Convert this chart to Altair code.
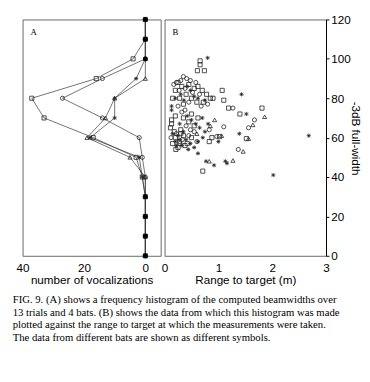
import altair as alt
import pandas as pd

# ---------- Panel A: histogram of beamwidths (counts per 10-degree bin) ----------
bins = [0, 10, 20, 30, 40, 50, 60, 70, 80, 90, 100, 110, 120]
hist_square = [0, 0, 0, 0, 1, 3, 17, 33, 37, 16, 4, 0, 0]
hist_circle = [0, 0, 0, 0, 0, 1, 2, 14, 27, 14, 0, 0, 0]
hist_star = [0, 0, 0, 0, 1, 2, 18, 10, 10, 3, 0, 0, 0]
hist_triangle = [0, 0, 0, 0, 0, 5, 19, 13, 10, 0, 0, 0, 0]
zero_bins = [0, 10, 20, 30, 100, 110, 120]

# ---------- Panel B: beamwidth vs range, per bat ----------
sq_x = [0.66, 0.66, 0.61, 0.74, 1.07, 1.10, 1.19, 1.40, 1.81, 0.13, 0.13, 0.20, 0.11, 0.83, 1.52, 0.71, 0.21,
        0.25, 0.32, 0.45, 0.55, 0.62, 0.70, 0.78, 0.85, 0.40, 0.50, 0.28, 0.60, 0.35, 0.90, 0.72, 0.20, 0.15,
        0.35, 0.45, 0.55, 0.30, 0.62, 0.50,
        0.20, 0.28, 0.35, 0.42, 0.15, 0.25, 0.50, 0.18, 0.38, 0.30, 0.88, 1.02]
sq_y = [99, 97, 94, 94, 84, 79, 75, 72, 75, 67, 69, 71, 65, 58, 59.5, 43, 54,
        88, 86, 87, 85, 86, 84, 82, 80, 82, 80, 80, 78, 77, 80, 78, 84, 80,
        70, 68, 66, 64, 70, 72,
        60, 58, 61, 57, 57, 55, 60, 63, 56, 62, 60, 60.5]
ci_x = [0.41, 0.30, 0.22, 0.17, 0.35, 0.48, 0.58, 0.27, 0.38, 0.52, 0.65, 0.45, 0.32, 0.25, 0.68, 0.80,
        1.27, 1.67, 1.56, 1.10, 0.83, 1.37, 0.97,
        0.40, 0.48, 0.22, 0.33, 0.45, 0.28, 0.55, 0.60, 0.12, 0.38]
ci_y = [90, 89, 88, 87, 91, 89, 88, 84, 85, 83, 82, 78, 73, 76, 76, 77,
        75, 69, 65, 65.5, 64, 54, 60.6,
        66, 64, 62, 59, 61, 57, 63, 58, 60, 74]
st_x = [0.80, 1.43, 1.52, 0.81, 2.68, 0.13, 0.13, 0.62, 0.77, 1.39, 0.92, 1.13, 1.16, 2.02, 0.71, 0.75, 1.00,
        0.42, 0.55, 0.30, 0.62, 0.48, 0.75, 0.20, 0.36,
        0.50, 0.58, 0.42, 0.65, 0.28, 0.70,
        0.20, 0.25, 0.32, 0.40, 0.48, 0.15, 0.55, 0.35, 0.44, 0.27, 0.22, 0.62]
st_y = [100.5, 82, 72, 67, 61, 74, 76, 52, 48, 62, 46, 48, 47, 41, 60, 63, 58,
        86, 81, 82, 80, 84, 79, 80, 79,
        69, 67, 71, 65, 67, 70,
        58, 61, 56, 59, 57, 62, 55, 63, 54, 59, 56, 58]
tr_x = [0.93, 1.86, 1.64, 1.56, 1.46, 0.83, 1.27, 1.06, 0.85, 0.60]
tr_y = [69, 70.6, 66.5, 59.5, 53, 48, 48.4, 61, 66, 62]

series_names = ["square", "circle", "star", "triangle"]
caption = [
    "FIG. 9.  (A) shows a frequency histogram of the computed beamwidths over",
    "13 trials and 4 bats. (B) shows the data from which this histogram was made",
    "plotted against the range to target at which the measurements were taken.",
    "The data from different bats are shown as different symbols.",
]

STAR = "M-1,0L1,0M0,-1L0,1M-0.72,-0.72L0.72,0.72M-0.72,0.72L0.72,-0.72"
shape_scale = alt.Scale(domain=series_names, range=["square", "circle", STAR, "triangle-up"])

hist_rows = []
for name, vals in zip(series_names, [hist_square, hist_circle, hist_star, hist_triangle]):
    for b, v in zip(bins, vals):
        hist_rows.append({"series": name, "width": b, "count": v})
hist = pd.DataFrame(hist_rows)
zeros = pd.DataFrame({"width": zero_bins, "count": [0] * len(zero_bins)})

sc_rows = []
for name, xs, ys in zip(series_names, [sq_x, ci_x, st_x, tr_x], [sq_y, ci_y, st_y, tr_y]):
    for x, y in zip(xs, ys):
        sc_rows.append({"series": name, "range": x, "width": y})
scat = pd.DataFrame(sc_rows)

FONT = "Liberation Sans"
xA = alt.X("count:Q", scale=alt.Scale(domain=[-5, 40], reverse=True, nice=False, zero=False),
           axis=alt.Axis(values=[40, 20, 0], title="number of vocalizations", grid=False, ticks=False,
                         domain=False, labelPadding=7, titlePadding=2, labelFlush=False,
                         labelFont=FONT, labelFontSize=12, labelColor="black",
                         titleFont=FONT, titleFontSize=12, titleFontWeight="normal", titleColor="black"))
yA = alt.Y("width:Q", scale=alt.Scale(domain=[0, 120], nice=False), axis=None)

linesA = alt.Chart(hist).mark_line(color="#333", strokeWidth=0.7).encode(
    x=xA, y=yA, detail="series:N", order="width:Q")
ptsA = alt.Chart(hist).mark_point(filled=False, color="#222", size=18, strokeWidth=0.8, opacity=1).encode(
    x=xA, y=yA, shape=alt.Shape("series:N", scale=shape_scale, legend=None))
zerosA = alt.Chart(zeros).mark_circle(color="black", size=24, opacity=1).encode(x=xA, y=yA)
labA = alt.Chart(pd.DataFrame({"count": [36.4], "width": [113.5], "t": ["A"]})).mark_text(
    font="Liberation Serif", fontSize=9, color="black").encode(x=xA, y=yA, text="t:N")
panelA = alt.layer(linesA, ptsA, zerosA, labA).properties(width=142, height=243)

xB = alt.X("range:Q", scale=alt.Scale(domain=[0, 3], nice=False),
           axis=alt.Axis(values=[0, 1, 2, 3], title="Range to target (m)", grid=False, ticks=False,
                         domain=False, labelPadding=7, titlePadding=2, labelFlush=False,
                         labelFont=FONT, labelFontSize=12, labelColor="black",
                         titleFont=FONT, titleFontSize=12, titleFontWeight="normal", titleColor="black"))
yB = alt.Y("width:Q", scale=alt.Scale(domain=[0, 120], nice=False),
           axis=alt.Axis(orient="right", values=[0, 20, 40, 60, 80, 100, 120], title="-3dB full-width",
                         grid=False, tickSize=3, tickColor="black", domainColor="black", labelPadding=2,
                         labelFlush=False,
                         labelFont=FONT, labelFontSize=12, labelColor="black",
                         titleFont=FONT, titleFontSize=12, titleFontWeight="normal", titleColor="black",
                         titleAngle=90, titleX=30, titleY=122, titleAlign="center", titleBaseline="middle"))
ptsB = alt.Chart(scat).mark_point(filled=False, color="#222", size=18, strokeWidth=0.8, opacity=1).encode(
    x=xB, y=yB, shape=alt.Shape("series:N", scale=shape_scale, legend=None))
labB = alt.Chart(pd.DataFrame({"range": [0.2], "width": [113.5], "t": ["B"]})).mark_text(
    font="Liberation Serif", fontSize=9, color="black").encode(x=xB, y=yB, text="t:N")
panelB = alt.layer(ptsB, labB).properties(width=166, height=243)

chart = alt.hconcat(panelA, panelB, spacing=4, bounds="flush").properties(
    title=alt.TitleParams(text=caption, orient="bottom", anchor="start", font="Liberation Serif",
                          fontSize=11, fontWeight="normal", color="black", lineHeight=13, offset=8, dx=-3),
    padding={"left": 4, "top": 0, "right": 0, "bottom": 0},
    background="white",
).configure_view(stroke="#666", strokeWidth=1)

chart.save("out.html", embed_options={"renderer": "svg", "actions": False})
